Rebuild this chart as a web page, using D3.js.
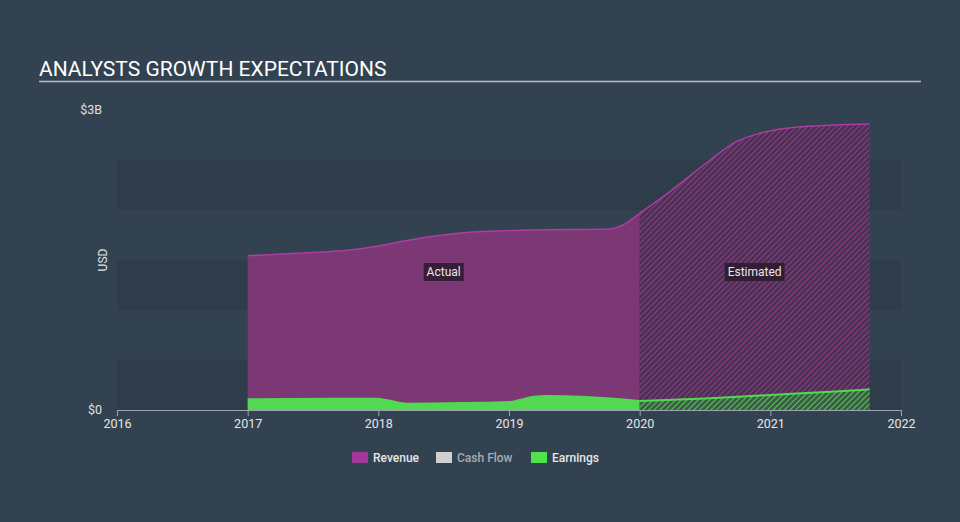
<!DOCTYPE html>
<html><head><meta charset="utf-8">
<script src="https://cdn.jsdelivr.net/npm/d3@7"></script>
<style>
html,body{margin:0;padding:0;background:#334251;}
svg{display:block;font-family:Roboto,"Open Sans",sans-serif;}
</style></head>
<body><svg id="c" width="960" height="522"></svg>
<script>
// ---- data (USD billions, decimal years) ----
const revenueActualYears = [2017.0, 2017.375, 2017.78, 2018.01, 2018.24, 2018.45, 2018.65, 2019.16, 2019.77, 2019.87, 2020.0];
const revenueActual      = [1.543, 1.567, 1.60, 1.643, 1.70, 1.743, 1.773, 1.80, 1.81, 1.85, 1.967];
const revenueEstYears = [2020.0, 2020.18, 2020.36, 2020.54, 2020.74, 2020.92, 2021.125, 2021.38, 2021.76];
const revenueEst      = [1.967, 2.133, 2.317, 2.50, 2.683, 2.767, 2.817, 2.843, 2.86];
const earningsActualYears = [2017.0, 2017.63, 2017.99, 2018.06, 2018.22, 2018.65, 2019.01, 2019.08, 2019.19, 2019.29, 2019.55, 2019.75, 2020.0];
const earningsActual      = [0.117, 0.123, 0.123, 0.11, 0.073, 0.08, 0.09, 0.11, 0.143, 0.15, 0.143, 0.127, 0.10];
const earningsEstYears = [2020.0, 2020.5, 2021.0, 2021.5, 2021.76];
const earningsEst      = [0.09, 0.115, 0.15, 0.185, 0.207];
const xTicks = [2016, 2017, 2018, 2019, 2020, 2021, 2022];
const yTickValues = [0, 3];
const yTickLabels = ["$0", "$3B"];
const legendItems = ["Revenue", "Cash Flow", "Earnings"];

const svg = d3.select("#c");
const W = 960, H = 522;
const x = d3.scaleLinear().domain([2016, 2022]).range([117, 901]);
const y = d3.scaleLinear().domain([0, 3]).range([410, 110]);

// background
svg.append("rect").attr("width", W).attr("height", H).attr("fill", "#334251");

// defs: hatch patterns
const defs = svg.append("defs");
function hatch(id, bg, bgOp, stroke) {
  const p = defs.append("pattern").attr("id", id).attr("patternUnits", "userSpaceOnUse")
    .attr("width", 4).attr("height", 4).attr("patternTransform", "rotate(45)");
  p.append("rect").attr("width", 4).attr("height", 4).attr("fill", bg).attr("fill-opacity", bgOp);
  p.append("line").attr("x1", 0).attr("y1", 0).attr("x2", 0).attr("y2", 4)
    .attr("stroke", stroke).attr("stroke-width", 2.2);
}
hatch("hatchRev", "#4a3152", 1, "#8c3c86");
hatch("hatchEarn", "#3d5a48", 1, "#52c852");

// title
svg.append("text").attr("x", 39).attr("y", 76).attr("fill", "#ffffff")
  .attr("font-size", 21).text("ANALYSTS GROWTH EXPECTATIONS");
svg.append("line").attr("x1", 39).attr("x2", 921).attr("y1", 81.5).attr("y2", 81.5)
  .attr("stroke", "#b8bfc6").attr("stroke-width", 1.5);

// bands
const bandStarts = [0, 1, 2];
svg.append("g").selectAll("rect").data(bandStarts).join("rect")
  .attr("x", x(2016)).attr("width", x(2022) - x(2016))
  .attr("y", d => y(d + 0.5)).attr("height", d => y(d) - y(d + 0.5))
  .attr("fill", "#2f3d4b");

const curve = d3.curveMonotoneX;
const toPts = (xs, vs) => xs.map((t, i) => ({t, v: vs[i]}));
const area = d3.area().x(d => x(d.t)).y0(y(0)).y1(d => y(d.v)).curve(curve);
const line = d3.line().x(d => x(d.t)).y(d => y(d.v)).curve(curve);

const revA = toPts(revenueActualYears, revenueActual);
const revE = toPts(revenueEstYears, revenueEst);
const earnA = toPts(earningsActualYears, earningsActual);
const earnE = toPts(earningsEstYears, earningsEst);

// revenue
svg.append("path").datum(revA).attr("d", area).attr("fill", "#7b3875");
svg.append("path").datum(revE).attr("d", area).attr("fill", "url(#hatchRev)");
svg.append("path").datum(revA).attr("d", line).attr("fill", "none").attr("stroke", "#ad3ca3").attr("stroke-width", 1.5);
svg.append("path").datum(revE).attr("d", line).attr("fill", "none").attr("stroke", "#ad3ca3").attr("stroke-width", 1.5);

// earnings
svg.append("path").datum(earnA).attr("d", area).attr("fill", "#52d852");
svg.append("path").datum(earnE).attr("d", area).attr("fill", "url(#hatchEarn)");
svg.append("path").datum(earnE).attr("d", line).attr("fill", "none").attr("stroke", "#52d852").attr("stroke-width", 2);

// labels Actual / Estimated
function boxLabel(cx, cy, txt) {
  const g = svg.append("g");
  const t = g.append("text").attr("x", cx).attr("y", cy + 4).attr("text-anchor", "middle")
    .attr("fill", "#e8e8e8").attr("font-size", 12).text(txt);
  const bb = t.node().getBBox();
  g.insert("rect", "text").attr("x", bb.x - 3).attr("y", cy - 9).attr("width", bb.width + 6).attr("height", 18)
    .attr("fill", "#2a1a2c").attr("fill-opacity", 0.85);
}
boxLabel((x(revenueActualYears[0]) + x(2020)) / 2, 272, "Actual");
boxLabel((x(2020) + x(revenueEstYears[revenueEstYears.length - 1])) / 2, 272, "Estimated");

// x axis
const xAxis = svg.append("g").attr("transform", `translate(0,${y(0)})`)
  .call(d3.axisBottom(x).tickValues(xTicks).tickFormat(d3.format("d")).tickSize(6).tickPadding(3));
xAxis.select(".domain").attr("stroke", "#9aa5b0");
xAxis.selectAll(".tick line").attr("stroke", "#9aa5b0");
xAxis.selectAll(".tick text").attr("fill", "#e6e6e6").attr("font-size", 12.5).attr("font-family", "Roboto, sans-serif");

// y labels
svg.append("g").selectAll("text").data(yTickValues).join("text")
  .attr("x", 102).attr("y", d => y(d) + 4).attr("text-anchor", "end")
  .attr("fill", "#e0e0e0").attr("font-size", 12.5).text((d, i) => yTickLabels[i]);
svg.append("text").attr("transform", `translate(107,260) rotate(-90)`).attr("text-anchor", "middle")
  .attr("fill", "#e0e0e0").attr("font-size", 12).text("USD");

// legend
const legColors = ["#a2379a", "#d0d0d0", "#4fe24f"];
const legText = ["#e6e6e6", "#a6adb4", "#e6e6e6"];
const legX = [352, 436, 531];
const lg = svg.append("g");
legendItems.forEach((name, i) => {
  lg.append("rect").attr("x", legX[i]).attr("y", 452).attr("width", 16).attr("height", 11)
    .attr("fill", legColors[i]);
  lg.append("text").attr("x", legX[i] + 21).attr("y", 462).attr("fill", legText[i])
    .attr("font-size", 12).attr("font-weight", 500).text(name);
});
</script></body></html>
